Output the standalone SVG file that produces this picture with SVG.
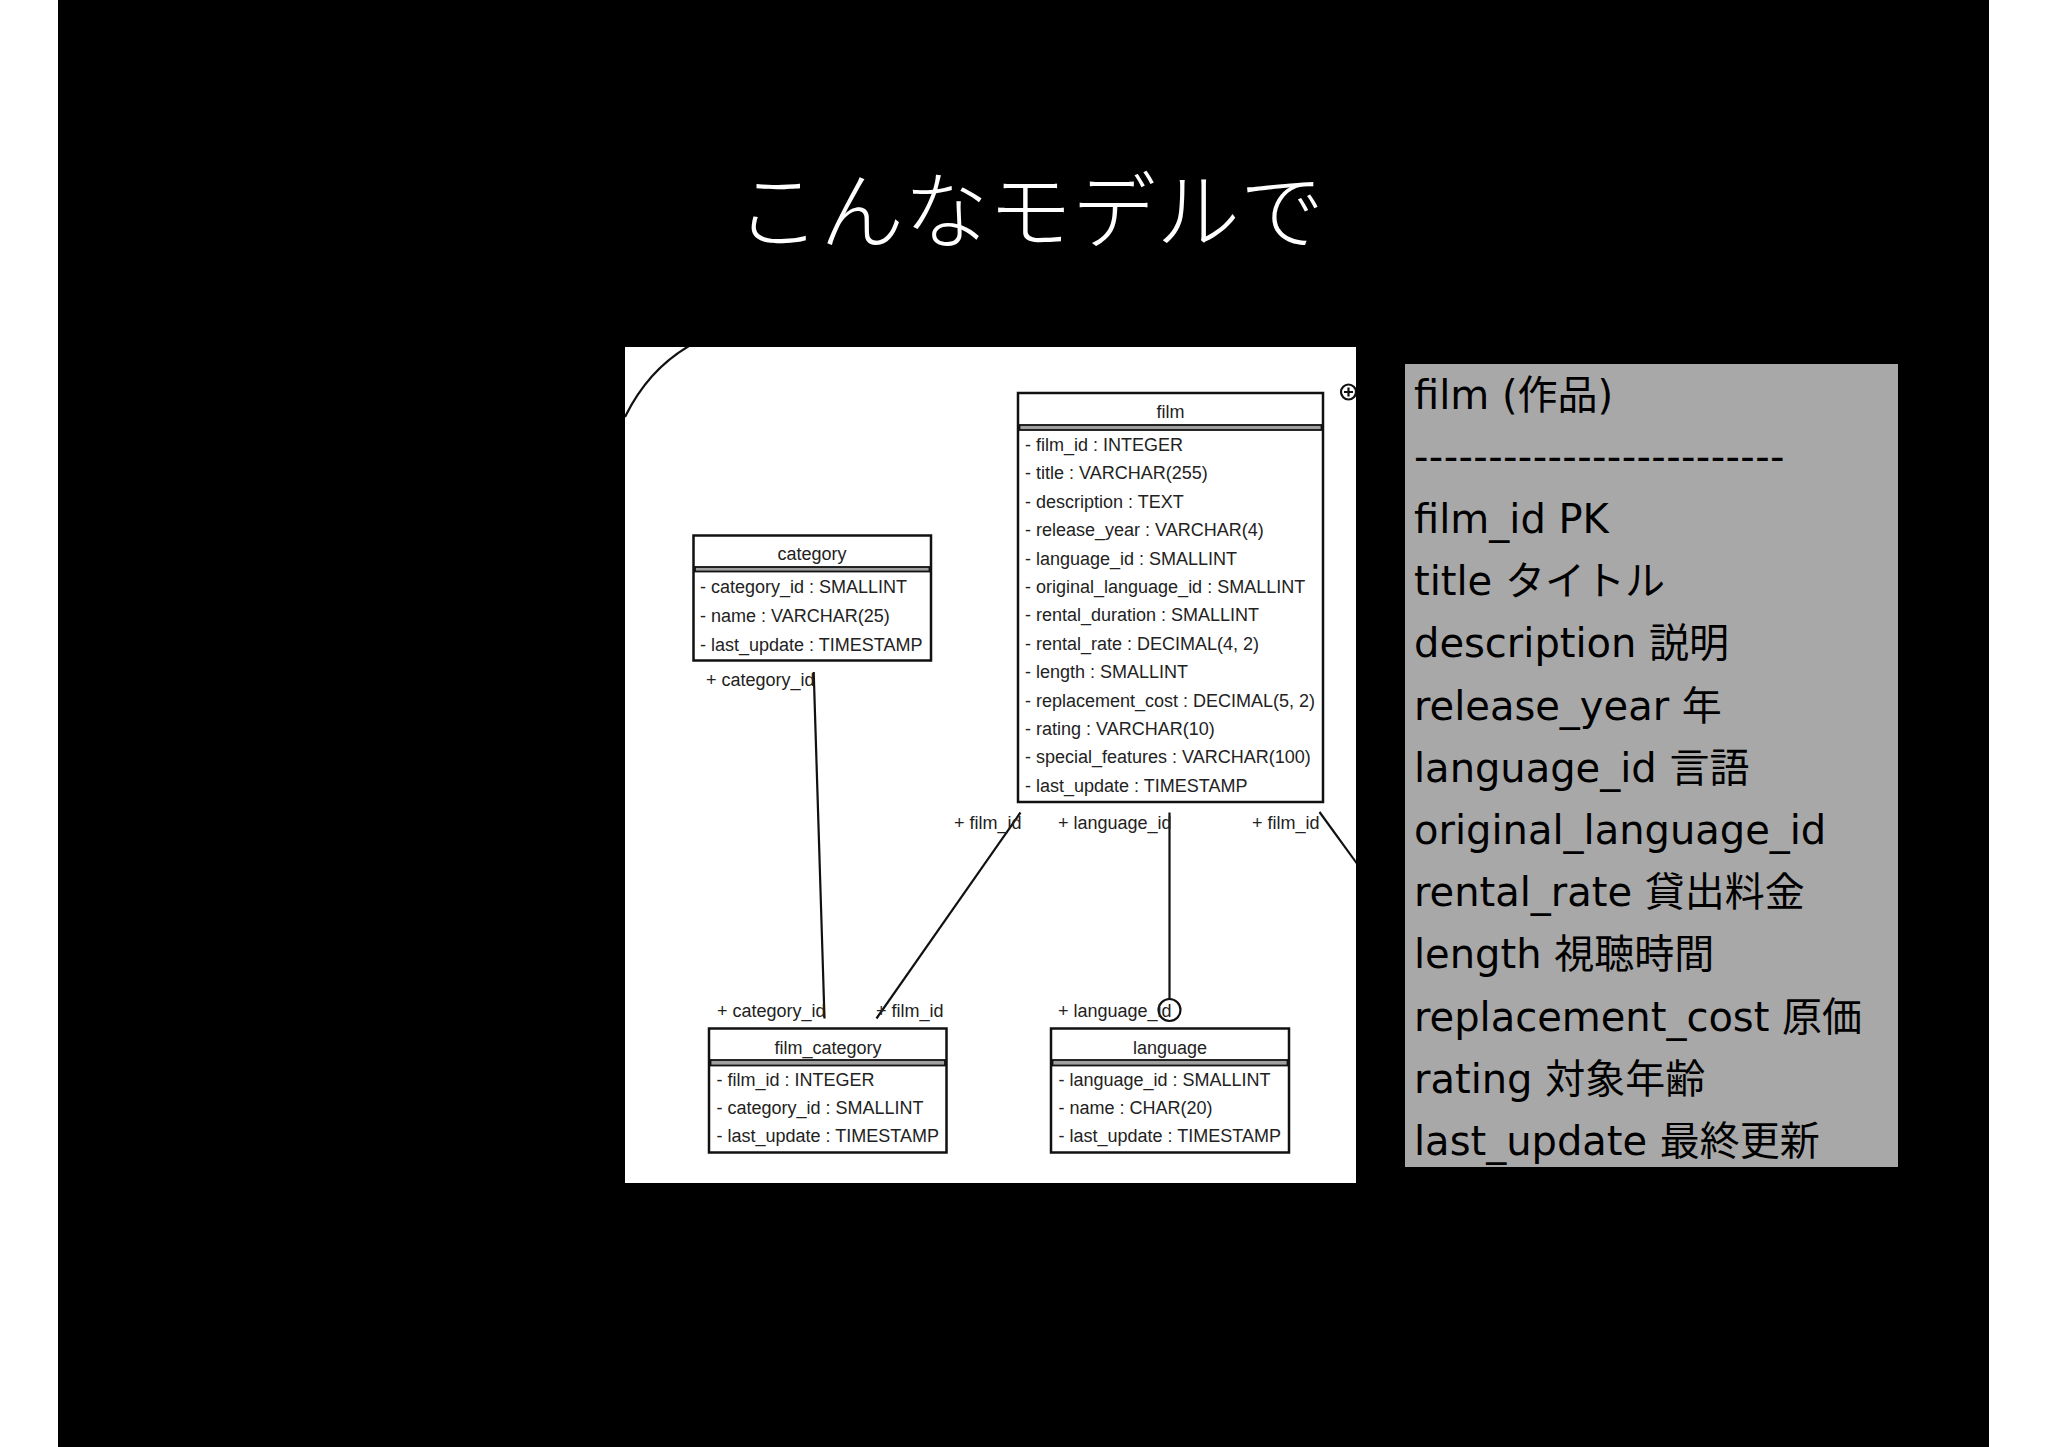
<svg xmlns="http://www.w3.org/2000/svg" width="2048" height="1447" viewBox="0 0 2048 1447">
<style>
.box{fill:#fff;stroke:#111;stroke-width:2.5}
.bar{fill:#a0a0a0;stroke:#111;stroke-width:1.8}
.ttl{font-family:"Liberation Sans",Arial,sans-serif;font-size:18px;fill:#222;text-anchor:middle}
.att{font-family:"Liberation Sans",Arial,sans-serif;font-size:18px;fill:#222}
.lbl{font-family:"Liberation Sans",Arial,sans-serif;font-size:18px;fill:#222}
.con{stroke:#111;stroke-width:2.2;fill:none}
.note{font-family:"DejaVu Sans","Noto Sans CJK JP",sans-serif;font-size:40px;fill:#000}
</style>
<defs>
<clipPath id="panel"><rect x="625" y="347" width="731" height="836"/></clipPath>
</defs>
<rect x="0" y="0" width="2048" height="1447" fill="#fff"/>
<rect x="58" y="0" width="1931" height="1447" fill="#000"/>
<text x="1030" y="242" font-family="'Noto Sans CJK JP',sans-serif" font-size="84" font-weight="300" fill="#fff" text-anchor="middle">こんなモデルで</text>
<rect x="625" y="347" width="731" height="836" fill="#fff"/>
<g id="connectors" clip-path="url(#panel)">
<path class="con" d="M625,417 Q648,370 689,346"/>
<circle class="con" cx="1348.5" cy="392" r="7.5" stroke-width="2"/>
<path class="con" d="M1344,392 H1353 M1348.5,387.5 V396.5" stroke-width="2"/>
<line class="con" x1="813.7" y1="672" x2="824.5" y2="1018.5"/>
<line class="con" x1="1020.5" y1="812.5" x2="876.5" y2="1018.5"/>
<line class="con" x1="1169.5" y1="812.5" x2="1169.5" y2="999"/>
<circle class="con" cx="1169.5" cy="1010" r="11"/>
<line class="con" x1="1319.5" y1="812" x2="1358" y2="865"/>
<text class="lbl" x="706" y="686">+ category_id</text>
<text class="lbl" x="954" y="829">+ film_id</text>
<text class="lbl" x="1058" y="829">+ language_id</text>
<text class="lbl" x="1252" y="829">+ film_id</text>
<text class="lbl" x="717" y="1017">+ category_id</text>
<text class="lbl" x="876" y="1017">+ film_id</text>
<text class="lbl" x="1058" y="1017">+ language_id</text>
</g>
<g id="film">
<rect class="box" x="1018" y="393" width="305" height="409"/>
<rect class="bar" x="1019.5" y="425" width="302" height="5"/>
<text class="ttl" x="1170.5" y="418">film</text>
<text class="att" x="1025" y="451">- film_id : INTEGER</text>
<text class="att" x="1025" y="479.4">- title : VARCHAR(255)</text>
<text class="att" x="1025" y="507.8">- description : TEXT</text>
<text class="att" x="1025" y="536.2">- release_year : VARCHAR(4)</text>
<text class="att" x="1025" y="564.6">- language_id : SMALLINT</text>
<text class="att" x="1025" y="593">- original_language_id : SMALLINT</text>
<text class="att" x="1025" y="621.4">- rental_duration : SMALLINT</text>
<text class="att" x="1025" y="649.8">- rental_rate : DECIMAL(4, 2)</text>
<text class="att" x="1025" y="678.2">- length : SMALLINT</text>
<text class="att" x="1025" y="706.6">- replacement_cost : DECIMAL(5, 2)</text>
<text class="att" x="1025" y="735">- rating : VARCHAR(10)</text>
<text class="att" x="1025" y="763.4">- special_features : VARCHAR(100)</text>
<text class="att" x="1025" y="791.8">- last_update : TIMESTAMP</text>
</g>
<g id="category">
<rect class="box" x="693.5" y="535.5" width="237.5" height="125"/>
<rect class="bar" x="695" y="567" width="234.5" height="4.5"/>
<text class="ttl" x="812" y="560">category</text>
<text class="att" x="700" y="592.5">- category_id : SMALLINT</text>
<text class="att" x="700" y="621.5">- name : VARCHAR(25)</text>
<text class="att" x="700" y="650.5">- last_update : TIMESTAMP</text>
</g>
<g id="film_category">
<rect class="box" x="709" y="1028.5" width="237.5" height="124"/>
<rect class="bar" x="710.5" y="1060" width="234.5" height="5.5"/>
<text class="ttl" x="828" y="1053.5">film_category</text>
<text class="att" x="716.5" y="1085.5">- film_id : INTEGER</text>
<text class="att" x="716.5" y="1114">- category_id : SMALLINT</text>
<text class="att" x="716.5" y="1142">- last_update : TIMESTAMP</text>
</g>
<g id="language">
<rect class="box" x="1051" y="1028.5" width="238" height="124"/>
<rect class="bar" x="1052.5" y="1060" width="235" height="5.5"/>
<text class="ttl" x="1170" y="1053.5">language</text>
<text class="att" x="1058.5" y="1085.5">- language_id : SMALLINT</text>
<text class="att" x="1058.5" y="1114">- name : CHAR(20)</text>
<text class="att" x="1058.5" y="1142">- last_update : TIMESTAMP</text>
</g>
<g id="note">
<rect x="1405" y="364" width="493" height="803" fill="#a8a8a8"/>
<text class="note" x="1414" y="408.5">film (作品)</text>
<text class="note" x="1414" y="470.7" letter-spacing="0.4">-------------------------</text>
<text class="note" x="1414" y="532.9">film_id PK</text>
<text class="note" x="1414" y="595.1">title タイトル</text>
<text class="note" x="1414" y="657.3">description 説明</text>
<text class="note" x="1414" y="719.5">release_year 年</text>
<text class="note" x="1414" y="781.7">language_id 言語</text>
<text class="note" x="1414" y="843.9">original_language_id</text>
<text class="note" x="1414" y="906.1">rental_rate 貸出料金</text>
<text class="note" x="1414" y="968.3">length 視聴時間</text>
<text class="note" x="1414" y="1030.5">replacement_cost 原価</text>
<text class="note" x="1414" y="1092.7">rating 対象年齢</text>
<text class="note" x="1414" y="1154.9">last_update 最終更新</text>
</g>
</svg>
